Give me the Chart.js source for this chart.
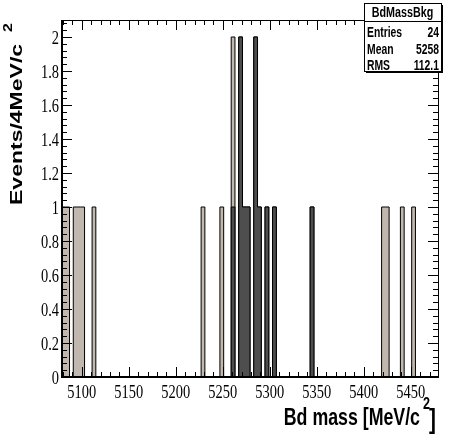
<!DOCTYPE html>
<html>
  <head>
    <title>BdMassBkg</title>
    <script src="https://cdn.jsdelivr.net/npm/chart.js"></script>
    <style>
      body {
        margin: 0;
        background: #fff;
      }

      .chart-container {
        width: 450px;
        height: 437px;
        position: relative;
      }
    </style>
  </head>
  <body>
    <div class="chart-container">
      <canvas id="myChart" width="450" height="437"></canvas>
    </div>

    <script>
      // histogram binning (Events / 4 MeV)
      const binLow = 5079;
      const binWidth = 4;
      const nBins = 100;

      // lower edge of every filled bin, all background events
      const allEdges = [5079, 5083, 5091, 5095, 5099, 5111, 5227, 5247, 5259, 5267, 5271,
        5275, 5283, 5287, 5295, 5303, 5343, 5419, 5423, 5439, 5451];
      const allCounts = [1, 1, 1, 1, 1, 1, 1, 1, 2, 2, 1, 1, 2, 1, 1, 1, 1, 1, 1, 1, 1];

      // dark overlay
      const darkEdges = [5259, 5267, 5271, 5275, 5283, 5287, 5295, 5303, 5343];
      const darkCounts = [1, 2, 1, 1, 2, 1, 1, 1, 1];

      const xTicks = [5100, 5150, 5200, 5250, 5300, 5350, 5400, 5450];
      const yTicks = [0, 0.2, 0.4, 0.6, 0.8, 1, 1.2, 1.4, 1.6, 1.8, 2];
      const xMinor = 10;
      const yMinor = 0.04;

      const statsTitle = "BdMassBkg";
      const statsNames = ["Entries", "Mean", "RMS"];
      const statsValues = ["24", "5258", "112.1"];

      function stepPoints(edges, counts) {
        const pts = [];
        for (let i = 0; i < nBins; i++) {
          const lo = binLow + i * binWidth;
          const j = edges.indexOf(lo);
          pts.push({ x: lo, y: j >= 0 ? counts[j] : 0 });
        }
        pts.push({ x: binLow + nBins * binWidth, y: 0 });
        return pts;
      }

      const SX = 0.74; // the picture is squeezed sideways

      function text(ctx, str, x, y, font, align, rot) {
        ctx.save();
        ctx.translate(x, y);
        ctx.scale(SX, 1);
        if (rot) ctx.rotate(rot);
        ctx.font = font;
        ctx.textAlign = align;
        ctx.textBaseline = "alphabetic";
        ctx.fillStyle = "#000";
        ctx.fillText(str, 0, 0);
        ctx.restore();
      }

      const rootFrame = {
        id: "rootFrame",
        afterDraw(chart) {
          const ctx = chart.ctx;
          const a = chart.chartArea;
          const xs = chart.scales.x;
          const ys = chart.scales.y;
          ctx.save();
          ctx.strokeStyle = "#000";

          // ticks, pointing inwards on all four sides
          ctx.lineWidth = 1;
          ctx.beginPath();
          for (let v = 5080; v <= 5475; v += xMinor) {
            const px = Math.round(xs.getPixelForValue(v)) + 0.5;
            const len = xTicks.includes(v) ? 10 : 5;
            ctx.moveTo(px, a.bottom);
            ctx.lineTo(px, a.bottom - len);
            ctx.moveTo(px, a.top);
            ctx.lineTo(px, a.top + len);
          }
          for (let i = 0; i * yMinor <= 2.09; i++) {
            const v = i * yMinor;
            const py = Math.round(ys.getPixelForValue(v)) + 0.5;
            const len = i % 5 === 0 ? 10 : 5;
            ctx.moveTo(a.left, py);
            ctx.lineTo(a.left + len, py);
            ctx.moveTo(a.right, py);
            ctx.lineTo(a.right - len, py);
          }
          ctx.stroke();

          // frame
          ctx.strokeRect(a.left + 0.5, a.top + 0.5, a.right - a.left, a.bottom - a.top);
          ctx.lineWidth = 2;
          ctx.beginPath();
          ctx.moveTo(a.left, a.top);
          ctx.lineTo(a.left, a.bottom);
          ctx.lineTo(a.right + 1, a.bottom);
          ctx.stroke();

          // tick labels
          const tickFont = "19.5px 'Liberation Serif'";
          xTicks.forEach((v) => {
            text(ctx, String(v), xs.getPixelForValue(v), a.bottom + 21, tickFont, "center");
          });
          yTicks.forEach((v) => {
            text(ctx, String(v), a.left - 3, ys.getPixelForValue(v) + 7, tickFont, "right");
          });

          // axis titles
          const titleFont = "bold 24px 'Liberation Sans'";
          text(ctx, "Bd mass [MeV/c", 420, 425, titleFont, "right");
          text(ctx, "2", 423, 409, "bold 17px 'Liberation Sans'", "left");
          text(ctx, "]", 429, 428, "bold 28px 'Liberation Sans'", "left");

          text(ctx, "Events/4MeV/c", 22, 205, "bold 23px 'Liberation Sans'", "left", -Math.PI / 2);
          text(ctx, "2", 12, 32, "bold 16px 'Liberation Sans'", "left", -Math.PI / 2);

          // stats box
          const bx = 364, by = 3, bw = 77, bh = 68;
          ctx.fillStyle = "#000";
          ctx.fillRect(bx + 2, by + 2, bw, bh);
          ctx.fillStyle = "#fff";
          ctx.fillRect(bx, by, bw, bh);
          ctx.lineWidth = 1;
          ctx.strokeRect(bx + 0.5, by + 0.5, bw, bh);
          ctx.beginPath();
          ctx.moveTo(bx, by + 18.5);
          ctx.lineTo(bx + bw, by + 18.5);
          ctx.stroke();
          text(ctx, statsTitle, bx + bw / 2, by + 14, "bold 14.5px 'Liberation Sans'", "center");
          statsNames.forEach((n, i) => {
            const yy = by + 34 + i * 16.5;
            text(ctx, n, bx + 3, yy, "bold 14px 'Liberation Sans'", "left");
            text(ctx, statsValues[i], bx + bw - 2, yy, "bold 14px 'Liberation Sans'", "right");
          });
          ctx.restore();
        },
      };

      const ctx = document.getElementById("myChart").getContext("2d");
      new Chart(ctx, {
        type: "line",
        data: {
          datasets: [
            {
              label: "dark",
              data: stepPoints(darkEdges, darkCounts),
              stepped: true,
              fill: "origin",
              backgroundColor: "rgb(78, 78, 78)",
              borderColor: "#000",
              borderWidth: 1,
              pointRadius: 0,
            },
            {
              label: statsTitle,
              data: stepPoints(allEdges, allCounts),
              stepped: true,
              fill: "origin",
              backgroundColor: "rgb(192, 184, 174)",
              borderColor: "#000",
              borderWidth: 1,
              pointRadius: 0,
            },
          ],
        },
        options: {
          responsive: false,
          animation: false,
          events: [],
          layout: { padding: { left: 0, top: 20, right: 12, bottom: 0 } },
          plugins: {
            legend: { display: false },
            tooltip: { enabled: false },
          },
          scales: {
            x: {
              type: "linear",
              min: binLow,
              max: binLow + nBins * binWidth,
              grid: { display: false },
              border: { display: false },
              ticks: { display: false },
              afterBuildTicks: (s) => {
                s.ticks = xTicks.map((v) => ({ value: v }));
              },
              afterFit: (s) => {
                s.height = 60;
              },
            },
            y: {
              type: "linear",
              min: 0,
              max: 2.1,
              grid: { display: false },
              border: { display: false },
              ticks: { display: false },
              afterBuildTicks: (s) => {
                s.ticks = yTicks.map((v) => ({ value: v }));
              },
              afterFit: (s) => {
                s.width = 62;
              },
            },
          },
        },
        plugins: [rootFrame],
      });
    </script>
  </body>
</html>
